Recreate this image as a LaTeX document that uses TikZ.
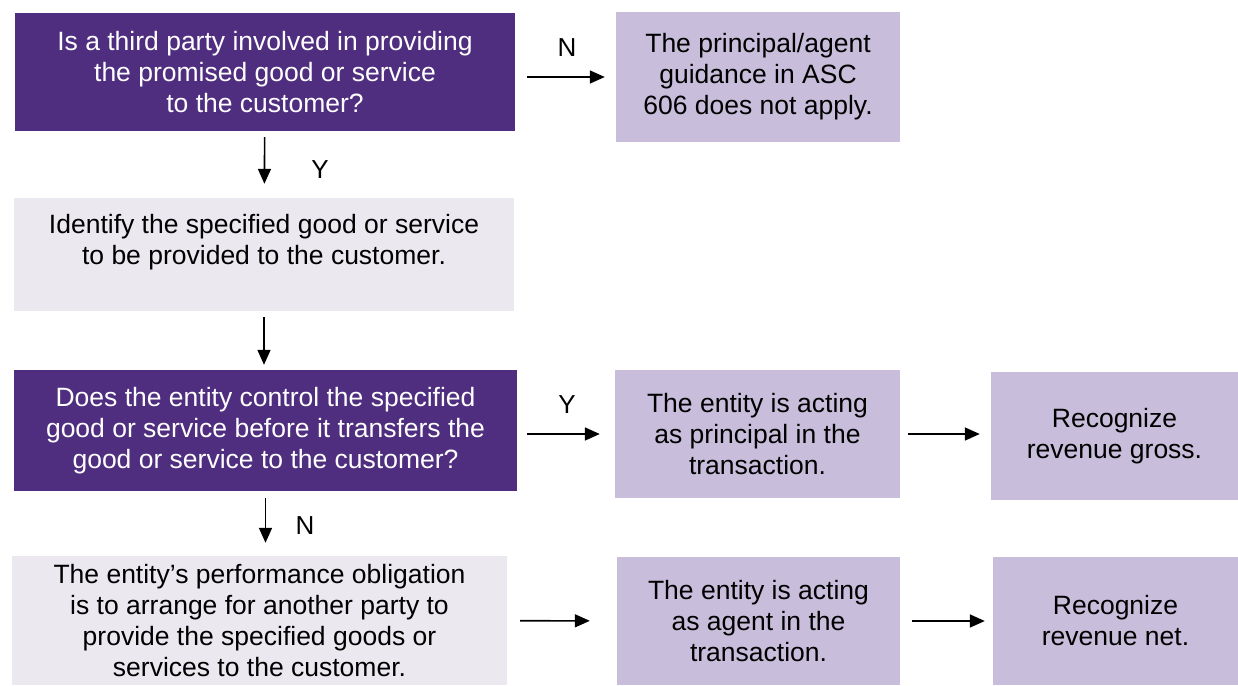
\documentclass[tikz,border=0pt]{standalone}
\usepackage{fontspec}
\setmainfont{Liberation Sans}
\usetikzlibrary{arrows.meta}
\definecolor{darkpurple}{HTML}{4F2D7F}
\definecolor{lightpurple}{HTML}{C8BEDB}
\definecolor{lightgrey}{HTML}{EBE8F0}

\begin{document}
\begin{tikzpicture}[x=1pt, y=-1pt]
  \tikzset{
    box/.style = {
      rectangle,
      inner sep = 0pt,
      align = center,
      font = \fontsize{26.5}{31}\selectfont},
    question/.style = {box, fill = darkpurple, text = white},
    outcome/.style = {box, fill = lightpurple},
    stepbox/.style = {box, fill = lightgrey},
    flow/.style = {-{Triangle[length=15pt, width=13pt]}, line width = 1.6pt},
    answer/.style = {font = \fontsize{26}{30}\selectfont, inner sep = 0pt}}
  \useasboundingbox (0,0) rectangle (1238,685);
  % left column
  \node[question, minimum width=500pt, minimum height=118pt] (third) at (265,72)
    {Is a third party involved in providing\\the promised good or service\\to the customer?};
  \node[stepbox, minimum width=500pt, minimum height=113pt] (identify) at (264,254.5)
    {Identify the specified good or service\\to be provided to the customer.\\ \mbox{}};
  \node[question, minimum width=503pt, minimum height=121pt] (control) at (265.5,430.5)
    {Does the entity control the specified\\good or service before it transfers the\\good or service to the customer?};
  \node[stepbox, minimum width=495pt, minimum height=129pt] (arrange) at (259.5,620.5)
    {The entity’s performance obligation\\is to arrange for another party to\\provide the specified goods or\\services to the customer.};
  % right columns
  \node[outcome, minimum width=284pt, minimum height=130pt] (noapply) at (758,77)
    {The principal/agent\\guidance in ASC\\606 does not apply.};
  \node[outcome, minimum width=285pt, minimum height=128pt] (principal) at (757.5,434)
    {The entity is acting\\as principal in the\\transaction.};
  \node[outcome, minimum width=247pt, minimum height=128pt] (gross) at (1114.5,436)
    {Recognize\\revenue gross.};
  \node[outcome, minimum width=283pt, minimum height=128pt] (agent) at (758.5,621)
    {The entity is acting\\as agent in the\\transaction.};
  \node[outcome, minimum width=245pt, minimum height=128pt] (net) at (1115.5,621)
    {Recognize\\revenue net.};
  % connectors
  \draw[flow, shorten <=12pt, shorten >=11pt] (third.east |- noapply) -- (noapply.west);
  \draw[flow, shorten <=6pt, shorten >=14pt] (third) -- (identify);
  \draw[flow, shorten <=6pt, shorten >=5pt] (identify) -- (identify |- control.north);
  \draw[flow, shorten <=10pt, shorten >=15pt] (control.east |- principal) -- (principal.west);
  \draw[flow, shorten <=8pt, shorten >=11pt] (principal) -- (gross.west |- principal);
  \draw[flow, shorten <=7pt, shorten >=13pt] (control.south) -- (control.south |- arrange.north);
  \draw[flow, shorten <=13pt, shorten >=27pt] (arrange) -- (agent);
  \draw[flow, shorten <=12pt, shorten >=8pt] (agent) -- (net);
  % answers
  \node[answer] (no1) at (567,48) {N};
  \node[answer] (yes1) at (320,170) {Y};
  \node[answer] (yes2) at (567,405) {Y};
  \node[answer] (no2) at (305,526) {N};
\end{tikzpicture}
\end{document}
